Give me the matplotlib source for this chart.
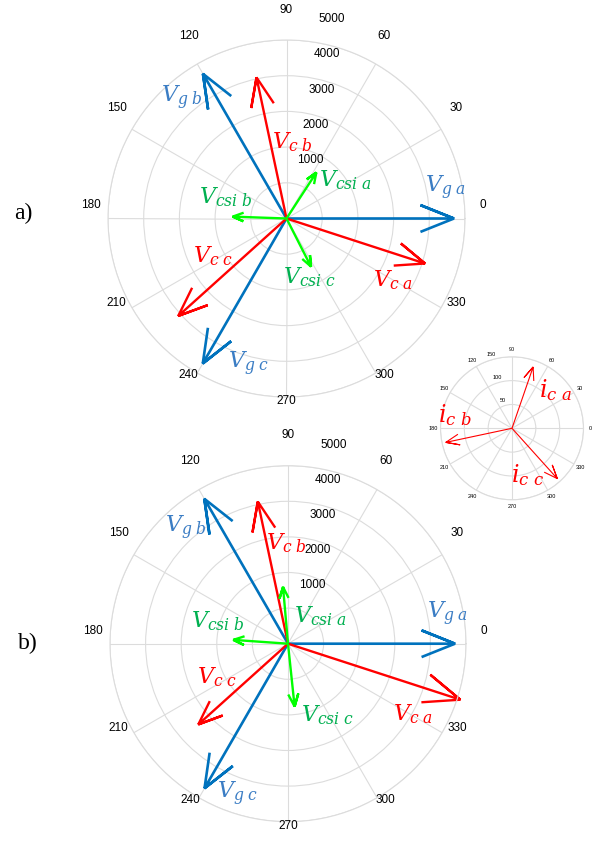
import numpy as np
import matplotlib
matplotlib.use("Agg")
import matplotlib.pyplot as plt
from matplotlib.transforms import offset_copy

plt.rcParams['mathtext.fontset'] = 'dejavuserif'
plt.rcParams['font.family'] = ['Liberation Sans', 'DejaVu Sans']

# phasor data (magnitude, angle in degrees)
phases = ['a', 'b', 'c']
vg_mag_a = [4690, 4680, 4690]
vg_ang_a = [0, 120, 240]
vc_mag_a = [4080, 4040, 4080]
vc_ang_a = [342, 102, 222]
vcsi_mag_a = [1535, 1507, 1513]
vcsi_ang_a = [57, 178, 297]

vg_mag_b = [4690, 4700, 4690]
vg_ang_b = [0, 120, 240]
vc_mag_b = [5090, 4080, 3390]
vc_ang_b = [342, 102, 222]
vcsi_mag_b = [1600, 1540, 1775]
vcsi_ang_b = [95, 176, 276]

ic_mag = [136, 142, 142]
ic_ang = [71, 192, 312]

r_ticks_big = [1000, 2000, 3000, 4000, 5000]
r_ticks_small = [50, 100, 150]
theta_ticks = list(range(0, 360, 30))

# label placement (angle deg, radius) for each vector label
lab_a = {'g': [(10.8, 4549), (131, 4462), (255.5, 4210)],
         'c': [(330, 3445), (86, 2150), (207, 2311)],
         'csi': [(33.4, 1961), (160.6, 1812), (291.3, 1774)]}
lab_b = {'g': [(10.5, 4571), (131.5, 4342), (251.6, 4450)],
         'c': [(330.5, 4017), (91, 2830), (205, 2211)],
         'csi': [(40.2, 1177), (162, 2067), (299, 2290)]}
lab_ic = [(41.7, 121), (166.9, 123), (287.8, 103)]

BLUE = '#0072BD'
BLUE_TXT = '#3B7DC4'
RED = '#FF0000'
GREEN = '#00FF00'
GREEN_TXT = '#00B050'
GRID = '#dcdcdc'

W, H = 611, 851
fig = plt.figure(figsize=(W / 100, H / 100), dpi=100)


def make_axes(cx, cy, R):
    return fig.add_axes([(cx - R) / W, 1 - (cy + R) / H, 2 * R / W, 2 * R / H],
                        projection='polar')


def style_polar(ax, rmax, rticks, tick_fs, lab_r, lab_dy, rlab_ang, rlab_off):
    ax.set_ylim(0, rmax)
    ax.set_rgrids(rticks, labels=[''] * len(rticks))
    ax.set_thetagrids(theta_ticks, labels=[''] * len(theta_ticks))
    ax.grid(True, color=GRID, lw=0.8)
    ax.spines['polar'].set_color(GRID)
    ax.spines['polar'].set_linewidth(0.8)
    ax.tick_params(length=0)
    ax.set_facecolor('none')
    tr = offset_copy(ax.transData, fig=fig, x=0, y=lab_dy, units='dots')
    for t in theta_ticks:
        ax.text(np.deg2rad(t), lab_r, str(t), transform=tr, ha='center',
                va='center', fontsize=tick_fs, clip_on=False)
    tr2 = offset_copy(ax.transData, fig=fig, x=rlab_off[0], y=rlab_off[1],
                      units='dots')
    for r in rticks:
        ax.text(np.deg2rad(rlab_ang), r, str(r), transform=tr2, ha='center',
                va='center', fontsize=tick_fs, clip_on=False)


def compass(ax, mags, angs, color, lw):
    # MATLAB compass style arrow: shaft plus open head at 0.8 / +-0.08
    for m, a in zip(mags, angs):
        z = m * np.exp(1j * np.deg2rad(a))
        pts = np.array([0, 1, 0.8 + 0.08j, 1, 0.8 - 0.08j]) * z
        ax.plot(np.angle(pts), np.abs(pts), color=color, lw=lw,
                solid_joinstyle='miter', solid_capstyle='butt', clip_on=False)


def labels(ax, pos, sub, color, fs):
    for (a, r), p in zip(pos, phases):
        ax.text(np.deg2rad(a), r, r'$%s_{%s\ %s}$' % (sub[0], sub[1], p),
                color=color, fontsize=fs, ha='center', va='center',
                clip_on=False)


def big_plot(cx, cy, R, vg, vc, vcsi, lab):
    ax = make_axes(cx, cy, R)
    style_polar(ax, 5000, r_ticks_big, 8.5, 5490, 13, 81.5, (19, 23))
    compass(ax, vg[0], vg[1], BLUE, 1.9)
    compass(ax, vc[0], vc[1], RED, 1.7)
    compass(ax, vcsi[0], vcsi[1], GREEN, 1.7)
    labels(ax, lab['g'], ('V', 'g'), BLUE_TXT, 16)
    labels(ax, lab['c'], ('V', 'c'), RED, 16)
    labels(ax, lab['csi'], ('V', 'csi'), GREEN_TXT, 16)
    return ax


big_plot(286.5, 218.5, 178.5, (vg_mag_a, vg_ang_a), (vc_mag_a, vc_ang_a),
         (vcsi_mag_a, vcsi_ang_a), lab_a)
big_plot(288, 643.7, 178, (vg_mag_b, vg_ang_b), (vc_mag_b, vc_ang_b),
         (vcsi_mag_b, vcsi_ang_b), lab_b)

# small inset with converter currents
axi = make_axes(512, 428.3, 71.5)
style_polar(axi, 150, r_ticks_small, 4, 165, 0, 105, (-2.5, 4.3))
compass(axi, ic_mag, ic_ang, RED, 0.8)
labels(axi, lab_ic, ('i', 'c'), RED, 17)

fig.text(23 / W, 1 - 213 / H, 'a)', family='Liberation Serif', fontsize=17,
         ha='center', va='center')
fig.text(28 / W, 1 - 643 / H, 'b)', family='Liberation Serif', fontsize=17,
         ha='center', va='center')

fig.savefig('out.png', dpi=100)
